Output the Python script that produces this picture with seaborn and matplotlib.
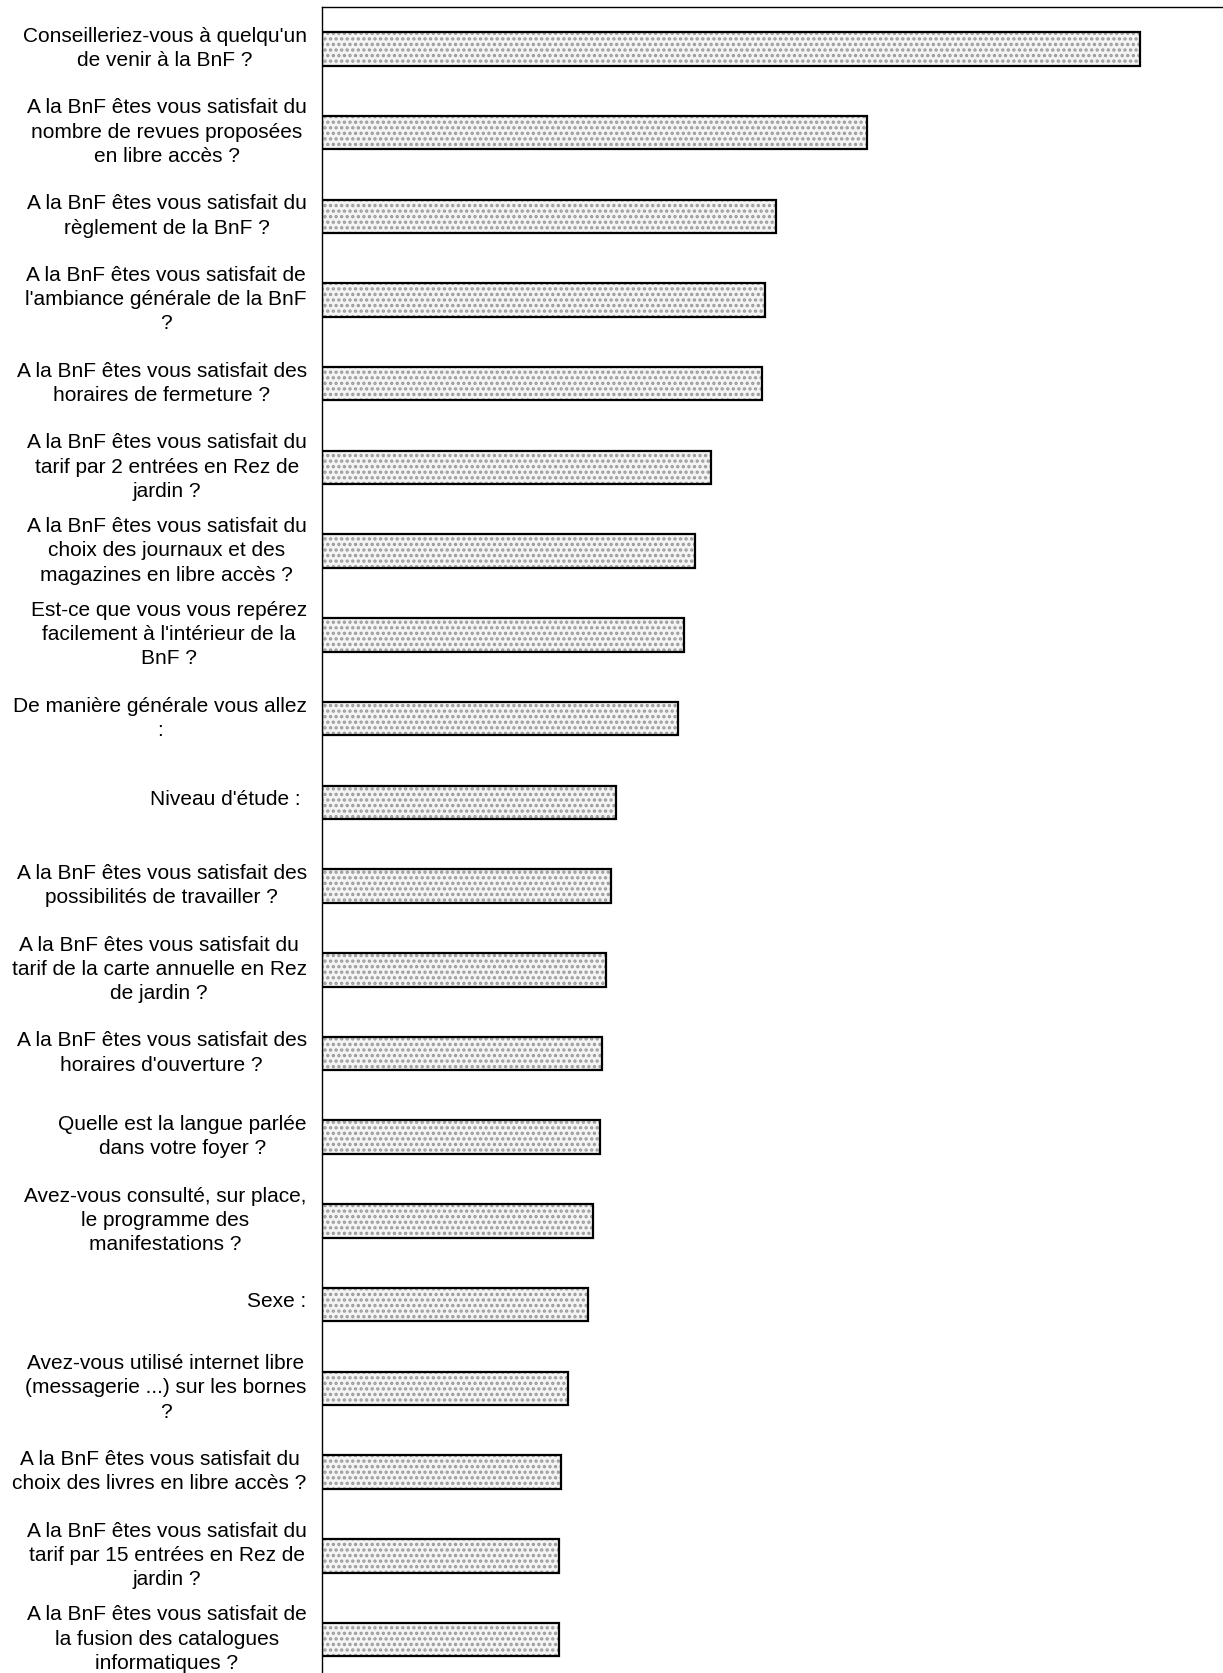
import matplotlib
matplotlib.use("Agg")
import matplotlib.pyplot as plt
import matplotlib.transforms as mtransforms
import seaborn as sns
import pandas as pd

labels = [
    "Conseilleriez-vous à quelqu'un\nde venir à la BnF ?",
    "A la BnF êtes vous satisfait du\nnombre de revues proposées\nen libre accès ?",
    "A la BnF êtes vous satisfait du\nrèglement de la BnF ?",
    "A la BnF êtes vous satisfait de\nl'ambiance générale de la BnF\n?",
    "A la BnF êtes vous satisfait des\nhoraires de fermeture ?",
    "A la BnF êtes vous satisfait du\ntarif par 2 entrées en Rez de\njardin ?",
    "A la BnF êtes vous satisfait du\nchoix des journaux et des\nmagazines en libre accès ?",
    "Est-ce que vous vous repérez\nfacilement à l'intérieur de la\nBnF ?",
    "De manière générale vous allez\n:",
    "Niveau d'étude : ",
    "A la BnF êtes vous satisfait des\npossibilités de travailler ?",
    "A la BnF êtes vous satisfait du\ntarif de la carte annuelle en Rez\nde jardin ?",
    "A la BnF êtes vous satisfait des\nhoraires d'ouverture ?",
    "Quelle est la langue parlée\ndans votre foyer ?",
    "Avez-vous consulté, sur place,\nle programme des\nmanifestations ?",
    "Sexe :",
    "Avez-vous utilisé internet libre\n(messagerie ...) sur les bornes\n?",
    "A la BnF êtes vous satisfait du\nchoix des livres en libre accès ?",
    "A la BnF êtes vous satisfait du\ntarif par 15 entrées en Rez de\njardin ?",
    "A la BnF êtes vous satisfait de\nla fusion des catalogues\ninformatiques ?",
]
values = [90.8, 60.5, 50.4, 49.2, 48.8, 43.2, 41.4, 40.2, 39.5, 32.6,
          32.1, 31.5, 31.1, 30.9, 30.1, 29.5, 27.3, 26.5, 26.3, 26.3]

df = pd.DataFrame({"label": labels, "value": values})

sns.set_theme(style="white")
plt.rcParams["font.family"] = ["Liberation Sans", "DejaVu Sans"]
plt.rcParams["hatch.linewidth"] = 1.6

fig = plt.figure(figsize=(12.23, 16.73), dpi=100)
ax = fig.add_axes([322 / 1223, 0.0, 1 - 322 / 1223, 1 - 7 / 1673])

# hatched fill
sns.barplot(data=df, x="value", y="label", orient="h", ax=ax, width=0.4,
            color="#f4f4f4", edgecolor="#9a9a9a", linewidth=0, hatch="...")
# black outline
sns.barplot(data=df, x="value", y="label", orient="h", ax=ax, width=0.4,
            fill=False, edgecolor="black", linewidth=1.6)

ax.set_xlim(0, 100)
ax.set_ylim(19.4, -0.5)
ax.set_xlabel("")
ax.set_ylabel("")
ax.set_xticks([])
for s in ["right", "bottom"]:
    ax.spines[s].set_visible(False)
for s in ["top", "left"]:
    ax.spines[s].set_visible(True)
    ax.spines[s].set_color("black")
    ax.spines[s].set_linewidth(1.0)
ax.tick_params(axis="y", length=0, pad=11, labelsize=15)
shift = mtransforms.ScaledTranslation(0, 5 / 100, fig.dpi_scale_trans)
for t in ax.get_yticklabels():
    t.set_multialignment("center")
    t.set_linespacing(1.35)
    t.set_color("black")
    t.set_transform(t.get_transform() + shift)

fig.savefig("out.png", dpi=100, facecolor="white")
